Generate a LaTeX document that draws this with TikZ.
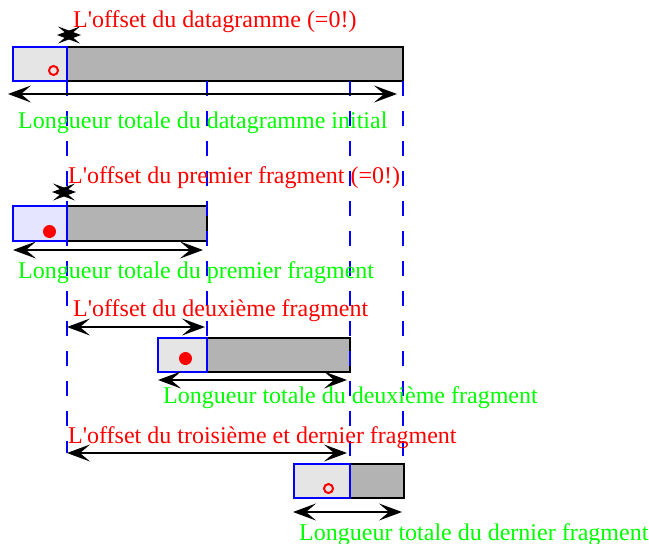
\documentclass[tikz,border=0pt]{standalone}
\usepackage{fontspec}
\setmainfont{Liberation Serif}[Ligatures=TeXOff]
\usetikzlibrary{arrows.meta}
\definecolor{hdrgray}{RGB}{229,229,229}
\definecolor{hdrblue}{RGB}{229,229,255}
\definecolor{bodygray}{RGB}{179,179,179}
\definecolor{lblred}{RGB}{255,0,0}
\definecolor{lblgreen}{RGB}{0,255,0}

\begin{document}
\begin{tikzpicture}[x=1pt,y=-1pt,
  bodybox/.style={draw=black, fill=bodygray, line width=2pt, inner sep=0pt, outer sep=0pt, anchor=north west},
  hdrbox/.style={draw=blue, line width=2pt, inner sep=0pt, outer sep=0pt, anchor=north west},
  guide/.style={draw=blue, line width=2pt, dash pattern=on 15pt off 15pt},
  tip/.tip={Stealth[length=23pt,width=17pt,inset=10pt]},
  dim/.style={draw=black, line width=2pt, {tip}-{tip}},
  offlbl/.style={text=lblred, anchor=base west, inner sep=0pt, font=\fontsize{24}{28}\selectfont},
  lenlbl/.style={text=lblgreen, anchor=base west, inner sep=0pt, font=\fontsize{24}{28}\selectfont},
  opendot/.style={circle, draw=red, line width=2pt, minimum size=9pt, inner sep=0pt},
  fulldot/.style={circle, fill=red, minimum size=13pt, inner sep=0pt}]
\useasboundingbox (0,0) rectangle (649,544);

% --- fragment boxes: grey payload, header on the left ---
\node[bodybox, minimum width=336pt, minimum height=34pt] (body1) at (67,47) {};
\node[hdrbox, fill=hdrgray, minimum width=54pt, minimum height=34pt] (hdr1) at (13,47) {};
\node[bodybox, minimum width=140pt, minimum height=35pt] (body2) at (67,206) {};
\node[hdrbox, fill=hdrblue, minimum width=54pt, minimum height=35pt] (hdr2) at (13,206) {};
\node[bodybox, minimum width=143pt, minimum height=34pt] (body3) at (207,338) {};
\node[hdrbox, fill=hdrgray, minimum width=49pt, minimum height=34pt] (hdr3) at (158,338) {};
\node[bodybox, minimum width=54pt, minimum height=34pt] (body4) at (350,464) {};
\node[hdrbox, fill=hdrgray, minimum width=56pt, minimum height=34pt] (hdr4) at (294,464) {};

% --- flags marked in each header ---
\node[opendot] (flag1) at (53.5,70.5) {};
\node[fulldot] (flag2) at (49.5,231.5) {};
\node[fulldot] (flag3) at (185.5,358.5) {};
\node[opendot] (flag4) at (328.5,488.5) {};

% --- vertical guides ---
\coordinate (g1t) at (67,81);   \coordinate (g1b) at (67,453);
\coordinate (g2t) at (207,81);  \coordinate (g2b) at (207,338);
\coordinate (g3t) at (350,81);  \coordinate (g3b) at (350,464);
\coordinate (g4t) at (403,81);  \coordinate (g4b) at (403,461);
\draw[guide] (g1t) -- (g1b);
\draw[guide] (g2t) -- (g2b);
\draw[guide] (g3t) -- (g3b);
\draw[guide] (g4t) -- (g4b);

% --- offset arrows ---
\coordinate (o1a) at (57,35);  \coordinate (o1b) at (81,35);
\coordinate (o2a) at (52,192); \coordinate (o2b) at (76,192);
\coordinate (o3a) at (67,327); \coordinate (o3b) at (205,327);
\coordinate (o4a) at (67,453); \coordinate (o4b) at (347,453);
\draw[dim] (o1a) -- (o1b);
\draw[dim] (o2a) -- (o2b);
\draw[dim] (o3a) -- (o3b);
\draw[dim] (o4a) -- (o4b);

% --- length arrows ---
\coordinate (l1a) at (8,94);    \coordinate (l1b) at (397,94);
\coordinate (l2a) at (13,250);  \coordinate (l2b) at (203,250);
\coordinate (l3a) at (158,380); \coordinate (l3b) at (347,380);
\coordinate (l4a) at (293,512); \coordinate (l4b) at (402,512);
\draw[dim] (l1a) -- (l1b);
\draw[dim] (l2a) -- (l2b);
\draw[dim] (l3a) -- (l3b);
\draw[dim] (l4a) -- (l4b);

% --- labels ---
\node[offlbl] (t1) at (73,27)  {L'offset du datagramme (=0!)};
\node[lenlbl] (t2) at (18,128) {Longueur totale du datagramme initial};
\node[offlbl] (t3) at (68,183) {L'offset du premier fragment (=0!)};
\node[lenlbl] (t4) at (18,278) {Longueur totale du premier fragment};
\node[offlbl] (t5) at (73,316) {L'offset du deuxième fragment};
\node[lenlbl] (t6) at (163,403) {Longueur totale du deuxième fragment};
\node[offlbl] (t7) at (68,443) {L'offset du troisième et dernier fragment};
\node[lenlbl] (t8) at (299,540) {Longueur totale du dernier fragment};
\end{tikzpicture}
\end{document}
